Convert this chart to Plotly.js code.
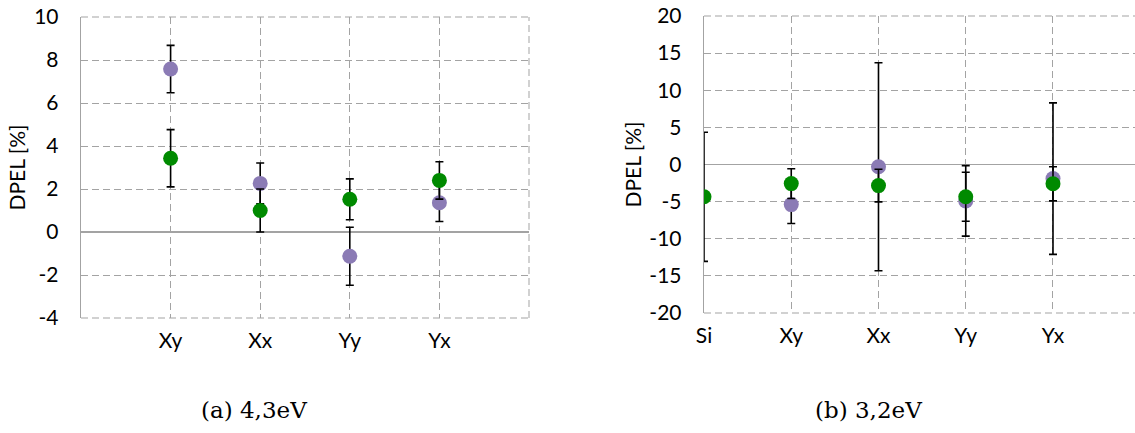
<!DOCTYPE html>
<html>
<head>
<meta charset="utf-8">
<script src="https://cdn.plot.ly/plotly-3.0.1.min.js"></script>
<style>html,body{margin:0;padding:0;background:#fff;}#chart{width:1135px;height:433px;}</style>
</head>
<body>
<div id="chart"></div>
<script>
// Panel (a) 4,3eV
const catsA = ["Xy", "Xx", "Yy", "Yx"];
const purpleA = [7.58, 2.26, -1.13, 1.36];
const purpleErrA = [1.1, 0.95, 1.35, 0.87];
const greenA = [3.43, 1.0, 1.52, 2.4];
const greenErrA = [1.33, 1.0, 0.95, 0.87];
const yTicksA = [-4, -2, 0, 2, 4, 6, 8, 10];

// Panel (b) 3,2eV
const catsB = ["Si", "Xy", "Xx", "Yy", "Yx"];
const purpleB = [null, -5.4, -0.3, -4.9, -1.9];
const purpleErrB = [null, 2.55, 14.0, 4.75, 10.2];
const greenB = [-4.35, -2.57, -2.84, -4.35, -2.6];
const greenErrB = [8.7, 2.0, 2.2, 3.3, 2.3];
const yTicksB = [-20, -15, -10, -5, 0, 5, 10, 15, 20];

const titleA = "(a) 4,3eV";
const titleB = "(b) 3,2eV";
const yTitle = "DPEL [%]";

const PURPLE = "#8b7bb5";
const GREEN = "#008a00";
const GRID = "#a3a3a3";
const DASH = "7px,4px";
const FONT = "Lato, 'Open Sans', sans-serif";

// x positions: panel (a) categories sit at 1..4 (range 0..5), panel (b) at 0..4
const xA = catsA.map((c, i) => i + 1);
const xB = catsB.map((c, i) => i);

function errBar(arr) {
  return {type: "data", array: arr, visible: true, color: "#000", thickness: 1.6, width: 4};
}
function mk(x, y, err, color, xa, ya) {
  return {
    x: x, y: y, xaxis: xa, yaxis: ya, type: "scatter", mode: "markers",
    marker: {color: color, size: 15, line: {width: 0}},
    error_y: errBar(err), showlegend: false, hoverinfo: "x+y"
  };
}

const data = [
  mk(xA, purpleA, purpleErrA, PURPLE, "x", "y"),
  mk(xA, greenA, greenErrA, GREEN, "x", "y"),
  mk(xB, purpleB, purpleErrB, PURPLE, "x2", "y2"),
  mk(xB, greenB, greenErrB, GREEN, "x2", "y2")
];

const tickFont = {family: FONT, size: 21, color: "#000"};

const xCommon = {
  showgrid: true, gridcolor: GRID, griddash: DASH, gridwidth: 1,
  zeroline: false, showline: false, ticks: "", tickfont: tickFont,
  ticklabelstandoff: 8, fixedrange: true
};
const yCommon = {
  showgrid: true, gridcolor: GRID, griddash: DASH, gridwidth: 1,
  zeroline: true, zerolinecolor: GRID, zerolinewidth: 1.3,
  showline: true, linecolor: GRID, linewidth: 1.3,
  ticks: "", tickfont: tickFont, ticklabelstandoff: 17, tickmode: "array",
  title: {text: yTitle, font: {family: FONT, size: 21, color: "#000"}, standoff: 2},
  fixedrange: true
};

function edge(xref, yref, x0, y0, x1, y1) {
  return {type: "line", xref: xref, yref: yref, x0: x0, y0: y0, x1: x1, y1: y1,
          line: {color: GRID, width: 1, dash: DASH}, layer: "below"};
}

const layout = {
  width: 1135, height: 433,
  margin: {l: 0, r: 0, t: 0, b: 0},
  paper_bgcolor: "#fff", plot_bgcolor: "#fff",
  xaxis: Object.assign({}, xCommon, {
    domain: [81 / 1135, 529 / 1135], range: [0, catsA.length + 1],
    tickmode: "array", tickvals: [0].concat(xA, [catsA.length + 1]),
    ticktext: [""].concat(catsA, [""]), anchor: "y"
  }),
  yaxis: Object.assign({}, yCommon, {
    domain: [(433 - 318) / 433, (433 - 17) / 433],
    range: [yTicksA[0], yTicksA[yTicksA.length - 1]],
    tickvals: yTicksA, ticktext: yTicksA.map(String), anchor: "x"
  }),
  xaxis2: Object.assign({}, xCommon, {
    domain: [704 / 1135, 1], range: [0, 4.94],
    tickmode: "array", tickvals: xB, ticktext: catsB, anchor: "y2"
  }),
  yaxis2: Object.assign({}, yCommon, {
    domain: [(433 - 313) / 433, (433 - 16) / 433],
    range: [yTicksB[0], yTicksB[yTicksB.length - 1]],
    tickvals: yTicksB, ticktext: yTicksB.map(String), anchor: "x2"
  }),
  shapes: [
    edge("x domain", "y domain", 0, 1, 1, 1),
    edge("x domain", "y domain", 0, 0, 1, 0),
    edge("x domain", "y domain", 1, 0, 1, 1),
    edge("x2 domain", "y2 domain", 0, 1, 1, 1),
    edge("x2 domain", "y2 domain", 0, 0, 1, 0)
  ],
  annotations: [
    {text: titleA, xref: "paper", yref: "paper", x: 254 / 1135, y: (433 - 410) / 433,
     xanchor: "center", yanchor: "middle", showarrow: false,
     font: {family: "'DejaVu Serif', serif", size: 23, color: "#000"}},
    {text: titleB, xref: "paper", yref: "paper", x: 868 / 1135, y: (433 - 410) / 433,
     xanchor: "center", yanchor: "middle", showarrow: false,
     font: {family: "'DejaVu Serif', serif", size: 23, color: "#000"}}
  ]
};

Plotly.newPlot("chart", data, layout, {displayModeBar: false, staticPlot: true});
</script>
</body>
</html>
